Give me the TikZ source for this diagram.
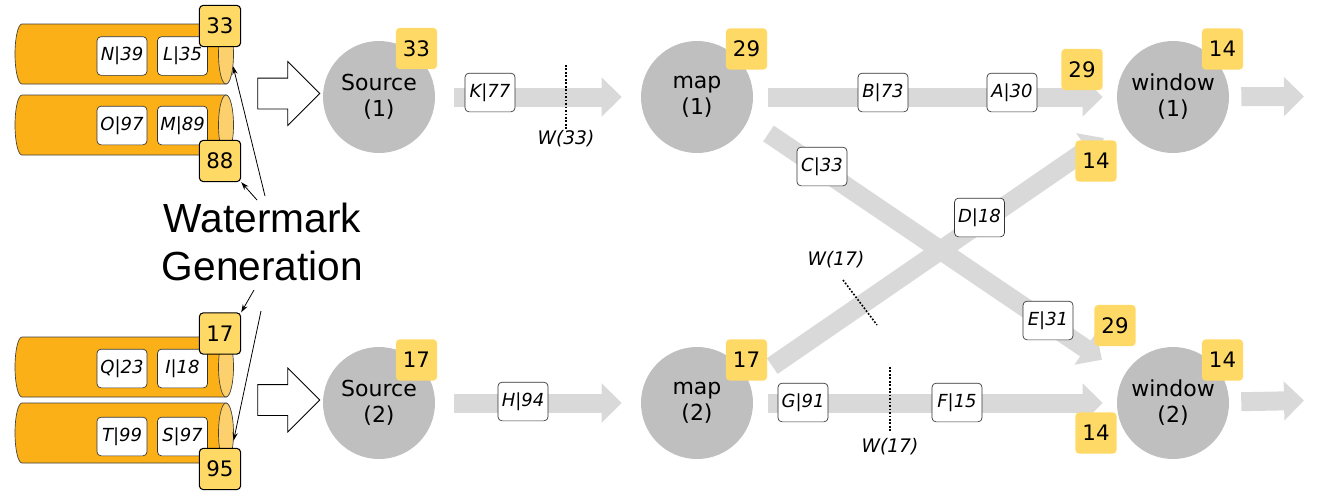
\documentclass[tikz,border=0pt]{standalone}
\usepackage{fontspec}
\setmainfont{DejaVu Sans}
\newfontfamily\wmfont{Liberation Sans}
\usepackage{tikz}
\usetikzlibrary{arrows.meta, shapes.geometric, shapes.arrows}

\definecolor{cylorange}{RGB}{252,176,23}
\definecolor{cylend}{RGB}{253,208,110}
\definecolor{wmyellow}{RGB}{255,217,102}
\definecolor{opgray}{RGB}{191,191,191}
\definecolor{flowgray}{RGB}{217,217,217}

\tikzset{
  op/.style={circle, fill=opgray, minimum size=84pt, inner sep=0pt, align=center,
    font=\fontsize{16.5}{19.5}\selectfont},
  wmark/.style={rectangle, rounded corners=3pt, fill=wmyellow, minimum size=31pt,
    inner sep=0pt, font=\fontsize{16}{19}\selectfont},
  wmsrc/.style={wmark, draw=black, line width=0.8pt},
  rec/.style={rectangle, rounded corners=3pt, draw=black!80, line width=0.5pt, fill=white,
    minimum width=37.5pt, minimum height=29pt, inner sep=0pt,
    font=\fontsize{13.5}{16}\selectfont\itshape},
  flow/.style={draw, color=flowgray, line width=14.25pt,
    -{Triangle[length=15pt, width=28.5pt, fill=flowgray, color=flowgray]}},
  cyl/.style={fill=cylorange, draw=black!75, line width=0.5pt},
  cylcap/.style={ellipse, fill=cylend, draw=black!75, line width=0.5pt,
    minimum width=11.25pt, minimum height=45pt, inner sep=0pt},
  hollow/.style={single arrow, draw=black, fill=white, line width=0.6pt,
    minimum height=46.5pt, inner xsep=0pt, inner ysep=11.25pt, single arrow head extend=12.4pt},
  wlab/.style={inner sep=0pt, font=\fontsize{14}{16}\selectfont\itshape},
  wline/.style={draw=black, line width=1.2pt, dash pattern=on 1.3pt off 1.3pt},
  genarrow/.style={draw=black, line width=0.6pt, -{Stealth[length=6pt, width=4pt]}}
}

\begin{document}
\begin{tikzpicture}[x=0.75pt, y=-0.75pt]
  \useasboundingbox (0,0) rectangle (1332,490);

  % partitions
  \foreach \yt/\n in {24/1, 95/2, 337/3, 403/4} {
    \path[cyl] (226,\yt) -- (22,\yt) arc[start angle=90, end angle=270, x radius=5.25pt, y radius=22.5pt]
      -- (226,\yt+60) arc[start angle=-90, end angle=90, x radius=5.25pt, y radius=22.5pt] -- cycle;
    \node[cylcap] (cap\n) at (226,\yt+30) {};
  }
  \node[rec] (rN) at (122,56) {N|39};
  \node[rec] (rL) at (182.5,56) {L|35};
  \node[rec] (rO) at (122,125.5) {O|97};
  \node[rec] (rM) at (182.5,125.5) {M|89};
  \node[rec] (rQ) at (122,368.5) {Q|23};
  \node[rec] (rI) at (182.5,368.5) {I|18};
  \node[rec] (rT) at (122,436.5) {T|99};
  \node[rec] (rS) at (182.5,436.5) {S|97};

  \node[wmsrc] (p33) at (220,26) {33};
  \node[wmsrc] (p88) at (220,161) {88};
  \node[wmsrc] (p17) at (220,333.5) {17};
  \node[wmsrc] (p95) at (220,469) {95};

  \node[hollow] (in1) at (281,93.5) {};
  \node[hollow] (in2) at (281,400) {};

  % operators
  \node[op] (src1) at (379,97) {Source\\(1)};
  \node[op] (src2) at (379,403) {Source\\(2)};
  \node[op] (map1) at (697,97) {map\\(1)};
  \node[op] (map2) at (697,403) {map\\(2)};
  \node[op] (win1) at (1173,97) {window\\(1)};
  \node[op] (win2) at (1173,403) {window\\(2)};
  \coordinate (out1) at (1304,96.5);
  \coordinate (out2) at (1304,400.5);

  \draw[flow, shorten <=14.25pt, shorten >=14.25pt] (src1) -- (map1);
  \draw[flow, shorten <=14.25pt, shorten >=14.25pt] (src2) -- (map2);
  \draw[flow, shorten <=11.25pt, shorten >=10.5pt] (map1) -- (win1);
  \draw[flow, shorten <=11.25pt, shorten >=10.5pt] (map2) -- (win2);
  \draw[flow, shorten <=18.2pt, shorten >=20.2pt] (map1.-24.6) -- (win2.150);
  \draw[flow, shorten <=21pt, shorten >=18.2pt] (map2.22) -- (win1.-151);
  \draw[flow, shorten <=9pt] (win1) -- (out1);
  \draw[flow, shorten <=9pt] (win2) -- (out2);

  % records in flight
  \node[rec] (rK) at (490,92.5) {K|77};
  \node[rec] (rH) at (523,401.5) {H|94};
  \node[rec] (rB) at (883,92.5) {B|73};
  \node[rec] (rA) at (1012,92.5) {A|30};
  \node[rec] (rC) at (822,166.5) {C|33};
  \node[rec] (rD) at (979.5,217.5) {D|18};
  \node[rec] (rE) at (1048,320.5) {E|31};
  \node[rec] (rG) at (803,402.5) {G|91};
  \node[rec] (rF) at (957,402.5) {F|15};

  % watermarks in flight
  \draw[wline] (566,65) -- (566,129);
  \node[wlab] (w33) at (566,139) {W(33)};
  \draw[wline] (843,280) -- (877,325);
  \node[wlab] (w17a) at (836,260) {W(17)};
  \draw[wline] (890,367) -- (890,432);
  \node[wlab] (w17b) at (890,447) {W(17)};

  % current watermarks
  \node[wmark] (src1wm) at (416.5,48.5) {33};
  \node[wmark] (src2wm) at (416.5,360) {17};
  \node[wmark] (map1wm) at (746.5,49) {29};
  \node[wmark] (map2wm) at (746.5,360) {17};
  \node[wmark] (win1wm) at (1222.5,49) {14};
  \node[wmark] (win2wm) at (1222.5,360) {14};
  \node[wmark] (win1a) at (1082,69.5) {29};
  \node[wmark] (win1b) at (1096,161) {14};
  \node[wmark] (win2a) at (1115,325.5) {29};
  \node[wmark] (win2b) at (1096,433) {14};

  \node[inner sep=0pt, align=center, font=\wmfont\fontsize{30.5}{36}\selectfont] (wmgen) at (262.5,241.5) {Watermark\\Generation};
  \coordinate (g1) at (265,196);
  \coordinate (g2) at (257,200);
  \coordinate (g3) at (254,290);
  \coordinate (g4) at (261,311);
  \draw[genarrow] (g1) -- (cap1.-60);
  \draw[genarrow] (g2) -- (p88.south east);
  \draw[genarrow] (g3) -- (p17.north east);
  \draw[genarrow] (g4) -- (cap4.-45);
\end{tikzpicture}
\end{document}
